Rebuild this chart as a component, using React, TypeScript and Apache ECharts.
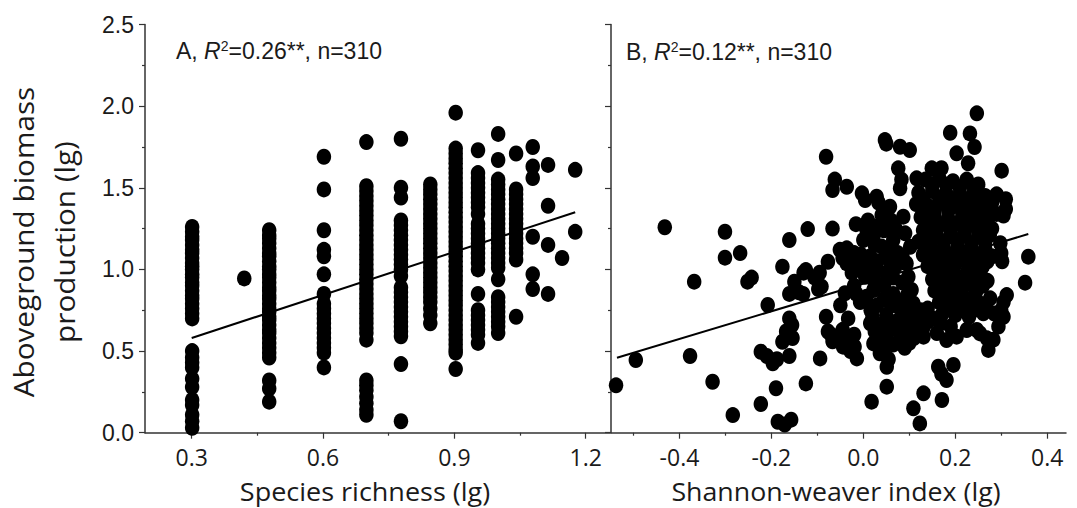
import React, { useEffect, useRef } from "react";
import * as echarts from "echarts";

// ---------- axis ticks ----------
const richnessLabels = [0.3, 0.6, 0.9, 1.2];
const richnessMinor = [0.45, 0.75, 1.05];
const shannonLabels = [-0.4, -0.2, 0.0, 0.2, 0.4];
const shannonMinor = [-0.5, -0.3, -0.1, 0.1, 0.3];

// ---------- panel A: species richness (lg) columns ----------
const rich030 = [1.26, 1.23, 1.2, 1.18, 1.15, 1.12, 1.1, 1.07, 1.04, 1.02, 1.0, 0.97, 0.95, 0.92, 0.9, 0.87, 0.84, 0.82, 0.79, 0.76, 0.73, 0.7, 0.5, 0.46, 0.43, 0.4, 0.33, 0.28, 0.2, 0.17, 0.11, 0.07, 0.03];
const rich042 = [0.945];
const rich048 = [1.24, 1.21, 1.19, 1.16, 1.13, 1.1, 1.08, 1.05, 1.02, 1.0, 0.97, 0.95, 0.92, 0.89, 0.87, 0.84, 0.82, 0.79, 0.76, 0.74, 0.71, 0.69, 0.66, 0.63, 0.61, 0.58, 0.55, 0.52, 0.49, 0.46, 0.32, 0.27, 0.19];
const rich060 = [1.69, 1.49, 1.24, 1.12, 1.08, 0.97, 0.85, 0.79, 0.76, 0.73, 0.7, 0.67, 0.64, 0.61, 0.58, 0.55, 0.52, 0.49, 0.4];
const rich070 = [1.78, 1.51, 1.48, 1.45, 1.42, 1.39, 1.36, 1.33, 1.3, 1.27, 1.24, 1.21, 1.18, 1.15, 1.12, 1.09, 1.06, 1.03, 1.0, 0.97, 0.94, 0.91, 0.88, 0.85, 0.82, 0.79, 0.76, 0.73, 0.7, 0.67, 0.64, 0.61, 0.57, 0.32, 0.29, 0.26, 0.22, 0.18, 0.14, 0.11];
const rich078 = [1.8, 1.5, 1.44, 1.3, 1.27, 1.24, 1.21, 1.18, 1.15, 1.12, 1.09, 1.06, 1.03, 1.0, 0.96, 0.89, 0.86, 0.83, 0.8, 0.77, 0.74, 0.71, 0.68, 0.65, 0.62, 0.59, 0.42, 0.07];
const rich085 = [1.52, 1.49, 1.46, 1.43, 1.4, 1.37, 1.34, 1.31, 1.28, 1.25, 1.22, 1.19, 1.16, 1.13, 1.1, 1.07, 1.04, 1.01, 0.98, 0.95, 0.92, 0.89, 0.86, 0.83, 0.8, 0.76, 0.72, 0.67];
const rich090 = [1.96, 1.74, 1.71, 1.68, 1.65, 1.62, 1.59, 1.56, 1.53, 1.5, 1.47, 1.44, 1.41, 1.38, 1.35, 1.32, 1.29, 1.26, 1.23, 1.2, 1.17, 1.14, 1.11, 1.08, 1.05, 1.02, 0.99, 0.96, 0.93, 0.9, 0.87, 0.84, 0.81, 0.78, 0.75, 0.72, 0.69, 0.66, 0.63, 0.6, 0.57, 0.54, 0.51, 0.49, 0.39];
const rich095 = [1.73, 1.59, 1.56, 1.53, 1.5, 1.47, 1.44, 1.41, 1.38, 1.34, 1.28, 1.25, 1.22, 1.19, 1.16, 1.13, 1.1, 1.07, 1.04, 1.0, 0.85, 0.75, 0.72, 0.69, 0.66, 0.63, 0.6, 0.55];
const rich100 = [1.83, 1.67, 1.55, 1.52, 1.49, 1.46, 1.43, 1.4, 1.37, 1.34, 1.31, 1.28, 1.25, 1.22, 1.19, 1.16, 1.13, 1.1, 1.07, 1.04, 1.01, 0.94, 0.83, 0.8, 0.77, 0.74, 0.71, 0.68, 0.65, 0.61];
const rich104 = [1.71, 1.49, 1.46, 1.43, 1.4, 1.37, 1.34, 1.31, 1.28, 1.25, 1.22, 1.19, 1.16, 1.13, 1.1, 1.06, 0.71];
const rich108 = [1.75, 1.63, 1.56, 1.2, 0.97, 0.88];
const rich111 = [1.64, 1.39, 1.15, 0.85];
const rich115 = [1.07];
const rich118 = [1.61, 1.23];

const richnessColumns: [number, number[]][] = [
  [0.301, rich030], [0.42, rich042], [0.477, rich048], [0.602, rich060],
  [0.699, rich070], [0.778, rich078], [0.845, rich085], [0.903, rich090],
  [0.954, rich095], [1.0, rich100], [1.041, rich104], [1.079, rich108],
  [1.114, rich111], [1.146, rich115], [1.176, rich118],
];

// ---------- panel B: Shannon-weaver index (lg) ----------
const shannonSparse = [
  [-0.538, 0.29], [-0.495, 0.445], [-0.432, 1.258], [-0.368, 0.925], [-0.377, 0.47], [-0.328, 0.312],
  [-0.284, 0.108], [-0.301, 1.231], [-0.301, 1.072], [-0.268, 1.1], [-0.252, 0.925], [-0.243, 0.95],
  [-0.208, 0.782], [-0.223, 0.496], [-0.21, 0.47], [-0.197, 0.425], [-0.188, 0.45], [-0.19, 0.272],
  [-0.223, 0.176], [-0.186, 0.067], [-0.171, 0.05], [-0.157, 0.08], [-0.161, 0.7], [-0.176, 0.557],
  [-0.154, 0.58], [-0.161, 0.47], [-0.176, 1.017], [-0.161, 1.18], [-0.15, 0.925], [-0.161, 0.85],
  [-0.131, 0.85], [-0.125, 0.996], [-0.121, 1.247], [-0.106, 0.95], [-0.095, 0.98], [-0.091, 0.895],
  [-0.125, 0.302], [-0.094, 0.455], [-0.081, 0.71], [-0.077, 0.62], [-0.067, 0.56], [-0.077, 1.047],
  [-0.067, 1.25], [-0.067, 1.486], [-0.062, 1.55], [-0.081, 1.69], [-0.14, 0.86], [-0.13, 0.98],
  [-0.098, 0.88], [-0.168, 0.62], [-0.155, 0.66],
];
const shannonMid = [
  [-0.036, 1.506], [-0.003, 1.466], [0.004, 1.425], [0.029, 1.445], [0.033, 1.41], [0.058, 1.384],
  [0.04, 1.333], [-0.016, 1.277], [0.007, 1.241], [0.022, 1.2], [0.04, 1.14], [0.051, 1.1],
  [0.045, 1.24], [-0.036, 1.129], [-0.051, 1.12], [-0.036, 1.037], [-0.014, 1.058], [0.011, 1.017],
  [-0.02, 1.1], [-0.007, 0.996], [0.004, 0.955], [0.022, 0.94], [0.007, 0.833], [-0.007, 0.8],
  [0.022, 0.874], [-0.04, 0.854], [-0.033, 0.7], [0.016, 0.75], [-0.05, 0.78], [-0.045, 0.63],
  [-0.044, 0.527], [-0.019, 0.527], [-0.014, 0.455], [-0.07, 0.6], [-0.055, 0.57], [-0.035, 0.58],
  [-0.02, 0.6], [-0.028, 0.5], [0.087, 1.323], [0.091, 1.221], [0.102, 1.139], [0.094, 1.037],
  [0.098, 0.955], [0.105, 0.874], [0.109, 0.792], [0.07, 1.25], [0.065, 1.18], [0.075, 1.1],
  [0.07, 1.02], [0.05, 0.98], [0.045, 0.9], [0.065, 0.85], [0.08, 0.8], [0.03, 1.05],
  [-0.02, 0.9], [0.06, 1.3], [0.047, 1.792], [0.05, 1.77], [0.08, 1.751], [0.101, 1.731],
  [0.076, 1.619], [0.083, 1.55], [0.08, 1.497],
];
const shannonMidFill = [
  [0.05, 1.35], [0.01, 1.3], [0.035, 1.27],
  [0.0, 1.18], [0.025, 1.15], [0.06, 1.13],
  [-0.045, 1.07], [-0.005, 1.09], [0.015, 1.08], [0.055, 1.06], [0.085, 1.08],
  [-0.025, 0.98], [0.03, 0.99], [0.065, 0.95], [0.085, 0.92],
  [-0.015, 0.85], [0.045, 0.82], [0.07, 0.78], [0.095, 0.84],
];
const shannonLowerMass = [
  [0.015, 0.67], [0.036, 0.66], [0.058, 0.629], [0.022, 0.547], [0.036, 0.486], [0.094, 0.67],
  [0.044, 0.506], [0.03, 0.78], [0.06, 0.78], [0.09, 0.74], [0.02, 0.71], [0.05, 0.72],
  [0.08, 0.7], [0.11, 0.71], [0.04, 0.6], [0.07, 0.64], [0.1, 0.62], [0.13, 0.64],
  [0.05, 0.56], [0.08, 0.57], [0.11, 0.58], [0.09, 0.52], [0.116, 0.67], [0.131, 0.588],
  [0.167, 0.67], [0.181, 0.568], [0.203, 0.588], [0.225, 0.629], [0.17, 0.72], [0.2, 0.72],
  [0.23, 0.71], [0.19, 0.65], [0.15, 0.7], [0.14, 0.76],
  [0.025, 0.62], [0.06, 0.68], [0.085, 0.62], [0.12, 0.62], [0.065, 0.54], [0.1, 0.55],
  [0.14, 0.68], [0.16, 0.61], [0.125, 0.75], [0.1, 0.79],
];
const shannonCore = [
  [0.135, 1.55], [0.165, 1.56], [0.195, 1.54], [0.225, 1.55], [0.25, 1.52],
  [0.12, 1.47], [0.15, 1.48], [0.18, 1.47], [0.21, 1.46], [0.24, 1.47], [0.265, 1.45],
  [0.115, 1.4], [0.14, 1.39], [0.17, 1.41], [0.2, 1.39], [0.23, 1.4], [0.255, 1.38],
  [0.125, 1.32], [0.155, 1.33], [0.185, 1.31], [0.215, 1.32], [0.245, 1.31], [0.27, 1.3],
  [0.13, 1.24], [0.16, 1.25], [0.19, 1.24], [0.22, 1.25], [0.25, 1.23], [0.28, 1.25],
  [0.12, 1.17], [0.145, 1.16], [0.175, 1.17], [0.205, 1.18], [0.235, 1.16], [0.265, 1.17],
  [0.13, 1.09], [0.16, 1.1], [0.19, 1.09], [0.22, 1.1], [0.25, 1.09], [0.28, 1.08],
  [0.14, 1.02], [0.17, 1.01], [0.2, 1.03], [0.23, 1.01], [0.26, 1.02],
  [0.15, 0.94], [0.18, 0.95], [0.21, 0.94], [0.24, 0.95], [0.27, 0.93],
  [0.155, 0.87], [0.185, 0.86], [0.215, 0.88], [0.245, 0.86],
  [0.165, 0.8], [0.195, 0.79], [0.225, 0.81], [0.255, 0.79],
];
const shannonCoreFill = [
  [0.15, 1.51], [0.18, 1.52], [0.21, 1.5], [0.24, 1.51],
  [0.13, 1.43], [0.165, 1.44], [0.195, 1.43], [0.225, 1.43], [0.255, 1.42], [0.28, 1.41],
  [0.13, 1.36], [0.155, 1.365], [0.185, 1.36], [0.215, 1.355], [0.24, 1.35], [0.265, 1.34],
  [0.14, 1.28], [0.175, 1.28], [0.205, 1.28], [0.235, 1.275], [0.26, 1.27],
  [0.135, 1.205], [0.16, 1.21], [0.19, 1.205], [0.22, 1.21], [0.25, 1.2], [0.275, 1.21],
  [0.145, 1.13], [0.175, 1.13], [0.205, 1.14], [0.235, 1.13], [0.265, 1.13],
  [0.15, 1.06], [0.18, 1.055], [0.21, 1.065], [0.24, 1.055], [0.27, 1.05],
  [0.16, 0.98], [0.195, 0.985], [0.225, 0.98], [0.255, 0.975],
  [0.17, 0.905], [0.2, 0.91], [0.23, 0.915], [0.26, 0.9],
  [0.18, 0.835], [0.21, 0.835], [0.24, 0.83],
  [0.185, 0.755], [0.215, 0.76], [0.245, 0.755],
];
const shannonEdge = [
  [0.149, 1.619], [0.17, 1.62], [0.116, 1.558], [0.189, 1.837], [0.232, 1.833], [0.242, 1.75],
  [0.203, 1.711], [0.228, 1.65], [0.247, 1.956], [0.301, 1.605], [0.29, 1.46], [0.31, 1.43],
  [0.31, 1.37], [0.305, 1.33], [0.29, 1.34], [0.298, 1.16], [0.3, 1.1], [0.302, 1.05],
  [0.359, 1.078], [0.352, 0.919], [0.305, 0.8], [0.3, 0.75], [0.269, 0.578], [0.254, 0.608],
  [0.283, 0.57], [0.305, 0.71], [0.294, 0.65], [0.312, 0.843], [0.276, 0.823], [0.261, 0.731],
  [0.247, 0.629], [0.272, 0.507], [0.27, 0.75], [0.285, 0.73],
];
const shannonLow = [
  [0.051, 0.404], [0.055, 0.45], [0.051, 0.282], [0.018, 0.19], [0.109, 0.149], [0.123, 0.057],
  [0.131, 0.241], [0.163, 0.404], [0.181, 0.323], [0.196, 0.415], [0.17, 0.36], [0.171, 0.2],
];

// ---------- regression lines ----------
const fitA = [[0.3, 0.58], [1.176, 1.35]];
const fitB = [[-0.536, 0.459], [0.359, 1.217]];

const pointsA = richnessColumns.flatMap(([x, ys]) => ys.map((y) => [x, y]));
const pointsB = [
  ...shannonSparse, ...shannonMid, ...shannonMidFill, ...shannonLowerMass,
  ...shannonCore, ...shannonCoreFill, ...shannonEdge, ...shannonLow,
];

const TXT = "#1a1a1a";
const AX = "#333";
const OPEN = "'Open Sans', 'Liberation Sans', sans-serif";
const ARIAL = "'Liberation Sans', Arial, sans-serif";

function xAxes(gridIndex: number, min: number, max: number, labels: number[], minor: number[]) {
  return [
    {
      type: "value", gridIndex, min, max, position: "bottom",
      axisLine: { show: true, onZero: false, lineStyle: { color: AX, width: 1.5 } },
      axisTick: { show: true, customValues: labels, length: 6, lineStyle: { color: AX, width: 1.2 } },
      axisLabel: {
        show: true, customValues: labels, formatter: (v: number) => v.toFixed(1),
        fontFamily: OPEN, fontSize: 23, color: TXT, margin: 13,
      },
      splitLine: { show: false },
    },
    {
      type: "value", gridIndex, min, max, position: "bottom",
      axisLine: { show: false, onZero: false },
      axisTick: { show: true, customValues: minor, length: 3, lineStyle: { color: AX, width: 1.2 } },
      axisLabel: { show: false },
      splitLine: { show: false },
    },
  ];
}

function yAxis(gridIndex: number, showLabels: boolean) {
  return {
    type: "value", gridIndex, min: 0, max: 2.5, interval: 0.5, position: "left",
    axisLine: { show: true, onZero: false, lineStyle: { color: AX, width: 1.5 } },
    axisTick: { show: true, length: 6, lineStyle: { color: AX, width: 1.2 } },
    minorTick: { show: true, splitNumber: 2, length: 3, lineStyle: { color: AX, width: 1.2 } },
    axisLabel: {
      show: showLabels, formatter: (v: number) => v.toFixed(1),
      fontFamily: ARIAL, fontSize: 23, color: TXT, margin: 11,
    },
    splitLine: { show: false },
    minorSplitLine: { show: false },
  };
}

function annotation(letter: string, r2: string) {
  return `{a|${letter}, }{r|R}{s|2}{a|=${r2}**, n=310}`;
}

const annoRich = {
  a: { fontFamily: ARIAL, fontSize: 23, fill: TXT, lineHeight: 28 },
  r: { fontFamily: ARIAL, fontSize: 23, fontStyle: "italic", fill: TXT, lineHeight: 28 },
  s: { fontFamily: ARIAL, fontSize: 14, fill: TXT, lineHeight: 14, verticalAlign: "top", padding: [2, 0, 0, 0] },
};

export default function App() {
  const ref = useRef<HTMLDivElement>(null);
  useEffect(() => {
    if (!ref.current) return;
    const chart = echarts.init(ref.current, undefined, { renderer: "svg" });
    chart.setOption({
      animation: false,
      backgroundColor: "#fff",
      grid: [
        { left: 145, top: 24.5, width: 465, height: 408.2 },
        { left: 611, top: 24.5, width: 455, height: 408.2 },
      ],
      xAxis: [
        ...xAxes(0, 0.1933, 1.2555, richnessLabels, richnessMinor),
        ...xAxes(1, -0.549, 0.441, shannonLabels, shannonMinor),
      ],
      yAxis: [yAxis(0, true), yAxis(1, false)],
      series: [
        {
          type: "scatter", xAxisIndex: 0, yAxisIndex: 0, data: pointsA,
          symbol: "circle", symbolSize: [14.5, 16], itemStyle: { color: "#000", opacity: 1 },
        },
        {
          type: "line", xAxisIndex: 0, yAxisIndex: 0, data: fitA, symbol: "none",
          lineStyle: { color: "#000", width: 2 }, z: 3,
        },
        {
          type: "scatter", xAxisIndex: 2, yAxisIndex: 1, data: pointsB,
          symbol: "circle", symbolSize: [14.5, 16], itemStyle: { color: "#000", opacity: 1 },
        },
        {
          type: "line", xAxisIndex: 2, yAxisIndex: 1, data: fitB, symbol: "none",
          lineStyle: { color: "#000", width: 2 }, z: 3,
        },
      ],
      graphic: [
        {
          type: "text", x: 176, y: 51,
          style: { text: annotation("A", "0.26"), rich: annoRich, textVerticalAlign: "middle", fill: TXT },
        },
        {
          type: "text", x: 626, y: 52,
          style: { text: annotation("B", "0.12"), rich: annoRich, textVerticalAlign: "middle", fill: TXT },
        },
        {
          type: "text", x: 365, y: 491, scaleX: 1.08,
          style: { text: "Species richness (lg)", font: `25px ${OPEN}`, lineHeight: 26, fill: TXT, textAlign: "center", textVerticalAlign: "middle" },
        },
        {
          type: "text", x: 836, y: 491, scaleX: 1.07,
          style: { text: "Shannon-weaver index (lg)", font: `25px ${OPEN}`, lineHeight: 26, fill: TXT, textAlign: "center", textVerticalAlign: "middle" },
        },
        {
          type: "text", x: 44, y: 242, rotation: Math.PI / 2, scaleX: 1.1,
          style: {
            text: "Aboveground biomass\nproduction (lg)", font: `27px ${OPEN}`, fill: TXT,
            textAlign: "center", textVerticalAlign: "middle", lineHeight: 41,
          },
        },
      ],
    });
    return () => chart.dispose();
  }, []);
  return (
    <div
      ref={ref}
      style={{ position: "fixed", left: 0, top: 0, width: 1077, height: 508, background: "#fff" }}
    />
  );
}
